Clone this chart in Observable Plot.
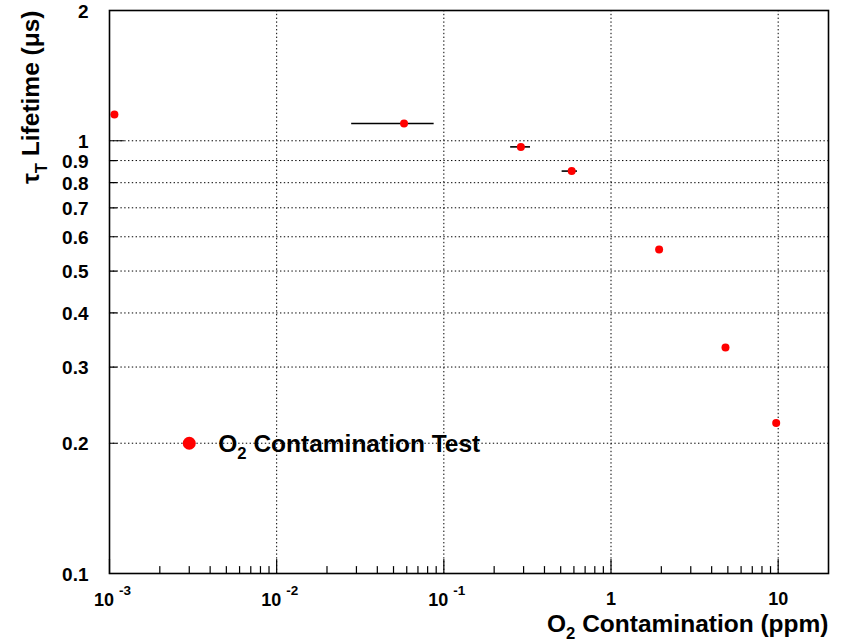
<!DOCTYPE html>
<html><head><meta charset="utf-8">
<script src="https://cdn.jsdelivr.net/npm/d3@7"></script>
<script src="https://cdn.jsdelivr.net/npm/@observablehq/plot@0.6"></script>
<style>body{margin:0;background:#fff;}</style>
</head><body><div id="chart"></div>
<script>
// ---- data ----
const o2ppm    = [0.00107, 0.0578, 0.289, 0.582, 1.94, 4.84, 9.73];
const lifetime = [1.15, 1.096, 0.968, 0.851, 0.561, 0.333, 0.2226];
const o2Low    = [0.00107, 0.0281, 0.251, 0.51, 1.94, 4.84, 9.73];
const o2High   = [0.00107, 0.0875, 0.33, 0.63, 1.94, 4.84, 9.73];

const xTickValues = [0.001, 0.01, 0.1, 1, 10];
const xTickLabels = ["10^{-3}", "10^{-2}", "10^{-1}", "1", "10"];
const yTickValues = [0.1, 0.2, 0.3, 0.4, 0.5, 0.6, 0.7, 0.8, 0.9, 1, 2];
const yTickLabels = ["0.1", "0.2", "0.3", "0.4", "0.5", "0.6", "0.7", "0.8", "0.9", "1", "2"];
const yGridValues = [0.2, 0.3, 0.4, 0.5, 0.6, 0.7, 0.8, 0.9, 1];
const xGridValues = [0.01, 0.1, 1, 10];

const legendLabel = "O_{2} Contamination Test";
const legendAt = {x: 0.003, y: 0.2};
const xTitle = "O_{2} Contamination (ppm)";
const yTitle = "τ_{T} Lifetime (μs)";

const points = o2ppm.map((x, i) => ({x, y: lifetime[i], lo: o2Low[i], hi: o2High[i]}));
const xTicks = xTickValues.map((v, i) => ({v, label: xTickLabels[i]}));
const yTicks = yTickValues.map((v, i) => ({v, label: yTickLabels[i]}));

const xScaleTicks = d3.scaleLog().domain([1e-3, 20]).ticks().filter(v => v < 20);
const xMajor = xScaleTicks.filter(v => Math.abs(Math.log10(v) - Math.round(Math.log10(v))) < 1e-9);
const xMinor = xScaleTicks.filter(v => !xMajor.includes(v));
const yScaleTicks = d3.scaleLog().domain([0.1, 2]).ticks();
const yMajor = yScaleTicks.filter(v => Math.abs(Math.log10(v) - Math.round(Math.log10(v))) < 1e-9);
const yMinor = yScaleTicks.filter(v => !yMajor.includes(v));

const tickShape = {draw(ctx, l) { ctx.moveTo(0, 0); ctx.lineTo(0, -l); }};
const font = "'Liberation Sans', Arial, Helvetica, sans-serif";

const chart = Plot.plot({
  width: 841, height: 644,
  marginLeft: 109, marginRight: 13, marginTop: 10, marginBottom: 71,
  x: {type: "log", domain: [1e-3, 20], axis: null},
  y: {type: "log", domain: [0.1, 2], axis: null},
  style: {fontFamily: font, fontWeight: "bold", background: "white", overflow: "visible", color: "black"},
  marks: [
    Plot.ruleY(yGridValues, {y: d => d, stroke: "black", strokeWidth: 1, strokeDasharray: "1.4,2.4"}),
    Plot.ruleX(xGridValues, {x: d => d, stroke: "black", strokeWidth: 1, strokeDasharray: "1.4,2.4"}),
    Plot.vector(xMinor, {x: d => d, frameAnchor: "bottom", length: 7, anchor: "start", rotate: 0, shape: tickShape, stroke: "black", strokeWidth: 1.2}),
    Plot.vector(xMajor, {x: d => d, frameAnchor: "bottom", length: 14, anchor: "start", rotate: 0, shape: tickShape, stroke: "black", strokeWidth: 1.2}),
    Plot.vector(yMinor, {y: d => d, frameAnchor: "left", length: 7, anchor: "start", rotate: 90, shape: tickShape, stroke: "black", strokeWidth: 1.2}),
    Plot.vector(yMajor, {y: d => d, frameAnchor: "left", length: 14, anchor: "start", rotate: 90, shape: tickShape, stroke: "black", strokeWidth: 1.2}),
    Plot.ruleY(points, {x1: "lo", x2: "hi", y: "y", stroke: "black", strokeWidth: 1.6}),
    Plot.dot(points, {x: "x", y: "y", r: 4, fill: "#ff0000", stroke: null}),
    Plot.frame({stroke: "black", strokeWidth: 1.6}),
    // tick labels
    Plot.text(yTicks, {y: "v", text: "label", frameAnchor: "left", textAnchor: "end", lineAnchor: "middle", dx: -21, dy: 1, fontSize: 19, fill: "black"}),
    Plot.text(xTicks.filter(d => d.label.includes("^")), {x: "v", text: "label", frameAnchor: "bottom", textAnchor: "middle", lineAnchor: "middle", dx: 3, dy: 27, fontSize: 18, fill: "black"}),
    Plot.text(xTicks.filter(d => !d.label.includes("^")), {x: "v", text: "label", frameAnchor: "bottom", textAnchor: "middle", lineAnchor: "middle", dx: 0, dy: 26, fontSize: 18, fill: "black"}),
    // axis titles
    Plot.text([xTitle], {text: d => d, frameAnchor: "bottom-right", textAnchor: "end", lineAnchor: "middle", dy: 50.5, fontSize: 24.5, fill: "black"}),
    Plot.text([yTitle], {text: d => d, frameAnchor: "top-left", textAnchor: "end", lineAnchor: "middle", rotate: -90, dx: -78, dy: 0, fontSize: 24.5, fill: "black"}),
    // legend
    Plot.dot([legendAt], {x: "x", y: "y", r: 6.5, fill: "#ff0000", stroke: null}),
    Plot.text([legendAt], {x: "x", y: "y", text: () => legendLabel, textAnchor: "start", lineAnchor: "middle", dx: 29, dy: 1, fontSize: 24.5, fill: "black"})
  ]
});

document.getElementById("chart").appendChild(chart);

// render _{..} as subscript and ^{..} as superscript
d3.select(chart).selectAll("text").each(function() {
  const t = this.textContent;
  if (!/[_^]\{/.test(t)) return;
  const fs = parseFloat(getComputedStyle(this).fontSize);
  const parts = t.split(/([_^]\{[^}]*\})/).filter(s => s.length);
  const el = d3.select(this);
  el.text(null);
  let shift = 0;
  for (const p of parts) {
    const m = p.match(/^([_^])\{([^}]*)\}$/);
    if (m) {
      const target = m[1] === "_" ? 0.3 * fs : -0.62 * fs;
      const ts = el.append("tspan").attr("font-size", (m[1] === "_" ? 0.68 : 0.75) * fs).attr("dy", target - shift).text(m[2]);
      if (m[1] === "^") ts.attr("dx", 0.28 * fs);
      shift = target;
    } else {
      el.append("tspan").attr("dy", -shift).text(p);
      shift = 0;
    }
  }
});
</script>
</body></html>
